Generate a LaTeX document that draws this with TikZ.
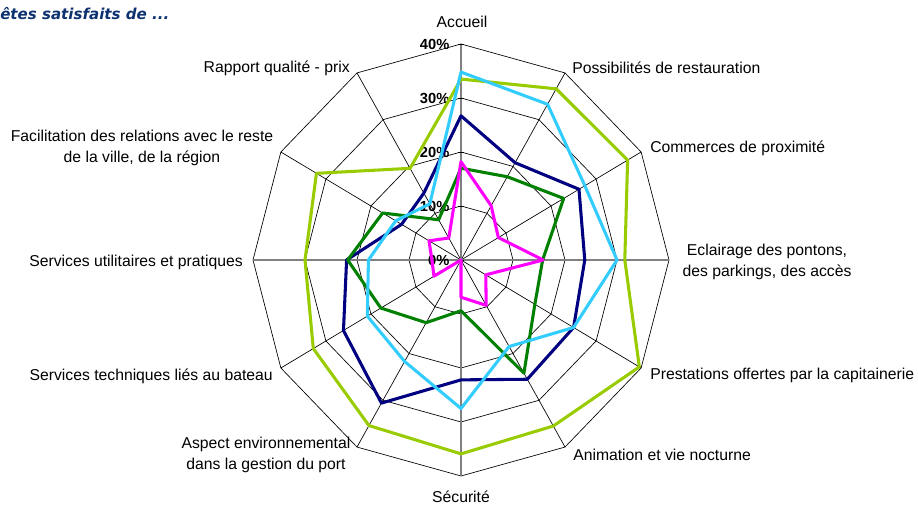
\documentclass[tikz,border=0pt]{standalone}
\usepackage{fontspec}
\setmainfont{Liberation Sans}
\newfontfamily\titlefont{DejaVu Sans}
\usepackage{xcolor}
\usetikzlibrary{positioning}

\definecolor{limeS}{RGB}{153,204,0}
\definecolor{cyanS}{RGB}{51,204,255}
\definecolor{navyS}{RGB}{0,0,128}
\definecolor{greenS}{RGB}{0,128,0}
\definecolor{magS}{RGB}{255,0,255}
\definecolor{titleblue}{RGB}{14,50,112}

\tikzset{
  grid/.style={black, line width=0.5pt},
  axe/.style={gray, line width=0.9pt},
  serie/.style={line width=2.3pt, line join=round},
  lbl/.style={inner sep=0pt, font=\fontsize{11.8}{15.5}\selectfont},
  pct/.style={inner sep=0pt, anchor=east, font=\fontsize{11}{12}\selectfont\bfseries},
}

\begin{document}
\begin{tikzpicture}[x=0.75pt, y=0.75pt]

    \useasboundingbox (0,0) rectangle (918,506);

    % Title
    \node[anchor=west, inner sep=0pt, text=titleblue,
          font=\titlefont\fontsize{11.3}{13}\selectfont\bfseries\itshape]
        (titre) at (0,492) {êtes satisfaits de ...};

    \begin{scope}[shift={(461,246)}, x=3.9pt, y=4.05pt]

    % Rings
    \foreach \r in {10,20,30,40}
        \draw[grid] (0:\r) \foreach \a in {30,60,...,330} { -- (\a:\r) } -- cycle;

    % Spokes
    \foreach \a in {30,60,120,150,210,240,300,330}
        \draw[grid] (0,0) -- (\a:40);

    % Axes
    \draw[axe] (180:40) -- (0:40);
    \draw[axe] (-90:40) -- (90:40);
    \foreach \r in {0,10,...,40}
        \draw[grid] (-0.6,\r) -- (0.6,\r);

    % Axis labels
    \foreach \r in {0,10,20,30,40}
        \node[pct] (p\r) at (-2.2,\r) {\r\%};

    % Series
    \draw[serie, draw=limeS]
        (90:33.5) -- (60:36.6) -- (30:37) -- (0:31.5) --
        (-30:39.6) -- (-60:35.5) -- (-90:35.9) -- (-120:35.4) --
        (-150:32.8) -- (180:30) -- (150:32.1) -- (120:19.6) -- cycle;
    \draw[serie, draw=navyS]
        (90:26.7) -- (60:20.8) -- (30:26.2) -- (0:23.8) --
        (-30:25) -- (-60:25.5) -- (-90:22.2) -- (-120:30.6) --
        (-150:26.1) -- (180:22) -- (150:13.2) -- (120:14.3) -- cycle;
    \draw[serie, draw=greenS]
        (90:17) -- (60:17.8) -- (30:22.8) -- (0:15.7) --
        (-30:16.4) -- (-60:24.2) -- (-90:9.4) -- (-120:13.4) --
        (-150:17.8) -- (180:21.8) -- (150:17.4) -- (120:8.6) -- cycle;
    \draw[serie, draw=cyanS]
        (90:34.8) -- (60:33.3) -- (30:27.5) -- (0:30) --
        (-30:25) -- (-60:18.5) -- (-90:27.5) -- (-120:21.7) --
        (-150:20.8) -- (180:17.8) -- (150:14.5) -- (120:12) -- cycle;
    \draw[serie, draw=magS]
        (90:18.2) -- (60:11.6) -- (30:8.3) -- (0:15.8) --
        (-30:5.5) -- (-60:9.7) -- (-90:6.9) -- (-120:0) --
        (-150:6) -- (180:5.6) -- (150:7.1) -- (120:4.7) -- cycle;

    \end{scope}

    % Category labels
    \node[lbl] (accueil) at (462,484) {Accueil};
    \node[lbl, anchor=west] (restau) at (572,438) {Possibilités de restauration};
    \node[lbl, anchor=west] (commerces) at (650,358) {Commerces de proximité};
    \node[lbl, align=center] (eclairage) at (767,244)
        {Eclairage des pontons,\\des parkings, des accès};
    \node[lbl, anchor=west] (capit) at (650,131) {Prestations offertes par la capitainerie};
    \node[lbl, anchor=west] (animation) at (573,51) {Animation et vie nocturne};
    \node[lbl] (securite) at (461,9) {Sécurité};
    \node[lbl, align=center] (aspect) at (266,51)
        {Aspect environnemental\\dans la gestion du port};
    \node[lbl, anchor=east] (techniques) at (273,130) {Services techniques liés au bateau};
    \node[lbl, anchor=east] (utilitaires) at (243,244) {Services utilitaires et pratiques};
    \node[lbl, align=center] (facilit) at (142,358)
        {Facilitation des relations avec le reste\\de la ville, de la région};
    \node[lbl, anchor=east] (rapport) at (350,438) {Rapport qualité - prix};
\end{tikzpicture}
\end{document}
